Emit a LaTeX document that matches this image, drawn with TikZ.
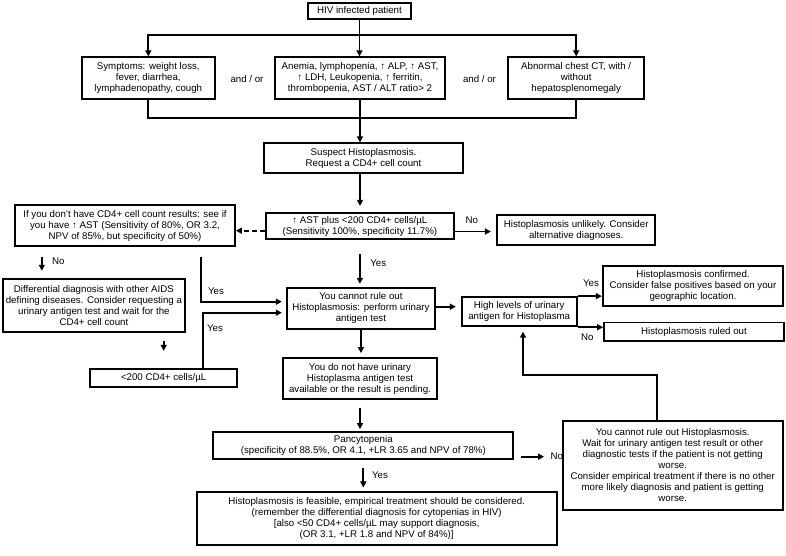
\documentclass[tikz,border=0pt]{standalone}
\usepackage{fontspec}
\setmainfont{Liberation Sans}
\usetikzlibrary{arrows.meta,calc}
\begin{document}
\begin{tikzpicture}[x=1pt,y=-1pt,
  box/.style={draw, line width=1.8pt, align=center, inner sep=0pt, font=\fontsize{9.7}{11}\selectfont},
  conn/.style={line width=1.8pt},
  arr/.style={conn, -{Triangle[length=6pt,width=6pt]}},
  lbl/.style={font=\fontsize{9.7}{11}\selectfont, inner sep=0pt}]
\useasboundingbox (0,0) rectangle (786,556);
% boxes
\node[box, minimum width=102.4pt, minimum height=16.3pt] (hiv) at (359.5,10.9) {HIV infected patient};
\node[box, minimum width=133.3pt, minimum height=42pt] (sym) at (148.3,78.3) {Symptoms: weight loss,\\ fever, diarrhea,\\ lymphadenopathy, cough};
\node[box, minimum width=170pt, minimum height=42pt] (lab) at (360,78.3) {Anemia, lymphopenia, ↑ ALP, ↑ AST,\\ ↑ LDH, Leukopenia, ↑ ferritin,\\ thrombopenia, AST / ALT ratio> 2};
\node[box, minimum width=135.7pt, minimum height=42pt] (ct) at (576.2,78.3) {Abnormal chest CT, with /\\ without\\ hepatosplenomegaly};
\node[box, minimum width=198.4pt, minimum height=29.4pt] (susp) at (363.5,158) {Suspect Histoplasmosis.\\ Request a CD4+ cell count};
\node[box, minimum width=188.3pt, minimum height=26.6pt] (ast) at (359.9,226) {↑ AST plus <200 CD4+ cells/µL\\ (Sensitivity 100\%, specificity 11.7\%)};
\node[box, minimum width=220pt, minimum height=41pt] (ifno) at (125,225.5) {If you don't have CD4+ cell count results: see if\\ you have ↑ AST (Sensitivity of 80\%, OR 3.2,\\ NPV of 85\%, but specificity of 50\%)};
\node[box, minimum width=157.7pt, minimum height=30pt] (unlikely) at (576.2,230) {Histoplasmosis unlikely. Consider\\ alternative diagnoses.};
\node[box, minimum width=182.3pt, minimum height=52.7pt] (diff) at (93.9,305.3) {Differential diagnosis with other AIDS\\ defining diseases. Consider requesting a\\ urinary antigen test and wait for the\\ CD4+ cell count};
\node[box, minimum width=148.3pt, minimum height=41.3pt] (cannot) at (360.9,308.4) {You cannot rule out\\ Histoplasmosis: perform urinary\\ antigen test};
\node[box, minimum width=115pt, minimum height=29.3pt] (high) at (519.2,311.7) {High levels of urinary\\ antigen for Histoplasma};
\node[box, minimum width=180.6pt, minimum height=40.3pt] (confirmed) at (693,285.9) {Histoplasmosis confirmed.\\ Consider false positives based on your\\ geographic location.};
\node[box, minimum width=180pt, minimum height=18.5pt] (ruled) at (694,331.8) {Histoplasmosis ruled out};
\node[box, minimum width=147.3pt, minimum height=17.7pt] (lt200) at (163.7,377.9) {<200 CD4+ cells/µL};
\node[box, minimum width=153.4pt, minimum height=41.6pt] (notavail) at (360,378.5) {You do not have urinary\\ Histoplasma antigen test\\ available or the result is pending.};
\node[box, minimum width=300pt, minimum height=27.6pt] (pancy) at (363.3,445.5) {Pancytopenia\\ (specificity of 88.5\%, OR 4.1, +LR 3.65 and NPV of 78\%)};
\node[box, minimum width=220pt, minimum height=89.3pt] (wait) at (672.7,465.4) {You cannot rule out Histoplasmosis.\\ Wait for urinary antigen test result or other\\ diagnostic tests if the patient is not getting\\ worse.\\ Consider empirical treatment if there is no other\\ more likely diagnosis and patient is getting\\ worse.};
\node[box, minimum width=360pt, minimum height=53.3pt] (feasible) at (376.7,518.4) {Histoplasmosis is feasible, empirical treatment should be considered.\\ (remember the differential diagnosis for cytopenias in HIV)\\ {[}also <50 CD4+ cells/µL may support diagnosis,\\ (OR 3.1, +LR 1.8 and NPV of 84\%)]};
% labels
\node[lbl] (ao1) at (247,79) {and / or};
\node[lbl] (ao2) at (479.5,79) {and / or};
\node[lbl] (lno1) at (471.7,220.7) {No};
\node[lbl] (lyes1) at (378.3,263.3) {Yes};
\node[lbl] (lno2) at (58.3,261.7) {No};
\node[lbl] (lyes2) at (216,291.7) {Yes};
\node[lbl] (lyes3) at (215,328.3) {Yes};
\node[lbl] (lyes4) at (591,283.3) {Yes};
\node[lbl] (lno3) at (587.3,337.3) {No};
\node[lbl] (lno4) at (556.7,456.7) {No};
\node[lbl] (lyes5) at (380,475) {Yes};
% connectors
\coordinate (t1) at (359.5,35);
\draw[arr] (hiv.south) -- (hiv.south |- lab.north);
\draw[arr] (t1) -| (sym.north);
\draw[arr] (t1) -| (ct.north);
\coordinate (b1) at (360,118.3);
\draw[conn] (sym.south) |- (b1);
\draw[conn] (ct.south) |- (b1);
\draw[arr] (lab.south) -- (lab.south |- susp.north);
\draw[arr, shorten >=6pt] (susp.south -| lab.south) -- (ast.north -| lab.south);
\draw[arr, shorten <=13.5pt, shorten >=3pt] (ast.south) -- (ast.south |- cannot.north);
\coordinate (a1) at ($(ast.east)+(0,5.5)$);
\draw[arr, shorten >=5.5pt] (a1) -- (a1 -| unlikely.west);
\coordinate (d1) at ($(ast.west)+(0,4.7)$);
\draw[arr, dash pattern=on 5pt off 3pt] (d1) -- (d1 -| ifno.east);
\coordinate (n1) at ($(ifno.south west)+(27.7,10)$);
\draw[arr, shorten >=7.3pt] (n1) -- (n1 |- diff.north);
\coordinate (y1) at ($(ifno.south west)+(186.7,10)$);
\coordinate (c1) at ($(cannot.west)+(0,-6.7)$);
\draw[arr, shorten >=4pt] (y1) |- (c1);
\coordinate (y2) at ($(lt200.north east)+(-35.6,0)$);
\coordinate (c2) at ($(cannot.west)+(0,4.3)$);
\draw[arr, shorten >=4pt] (y2) |- (c2);
\draw[arr, shorten <=8.3pt, shorten >=17.3pt] (diff.south -| lt200.north) -- (lt200.north);
\coordinate (c3) at ($(cannot.east)+(0,-1.7)$);
\draw[arr, shorten >=5pt] (c3) -- (c3 -| high.west);
\draw[arr] (high.north east) -- (high.north east -| confirmed.west);
\draw[arr] (high.south east) -- (high.south east -| ruled.west);
\draw[arr, shorten >=3.7pt] (cannot.south) -- (cannot.south |- notavail.north);
\draw[arr, shorten <=7.4pt, shorten >=1.7pt] (notavail.south) -- (notavail.south |- pancy.north);
\coordinate (p1) at ($(pancy.east)+(0,11.2)$);
\draw[arr, shorten <=6.7pt, shorten >=17.7pt] (p1) -- (p1 -| wait.west);
\draw[arr, shorten <=7.4pt, shorten >=3.4pt] (pancy.south) -- (pancy.south |- feasible.north);
\coordinate (w1) at ($(wait.north)+(-16,0)$);
\coordinate (w2) at ($(w1)+(0,-44.7)$);
\coordinate (h1) at ($(high.south)+(3.8,0)$);
\draw[arr, shorten >=4.4pt] (w1) -- (w2) -| (h1);
\end{tikzpicture}
\end{document}
